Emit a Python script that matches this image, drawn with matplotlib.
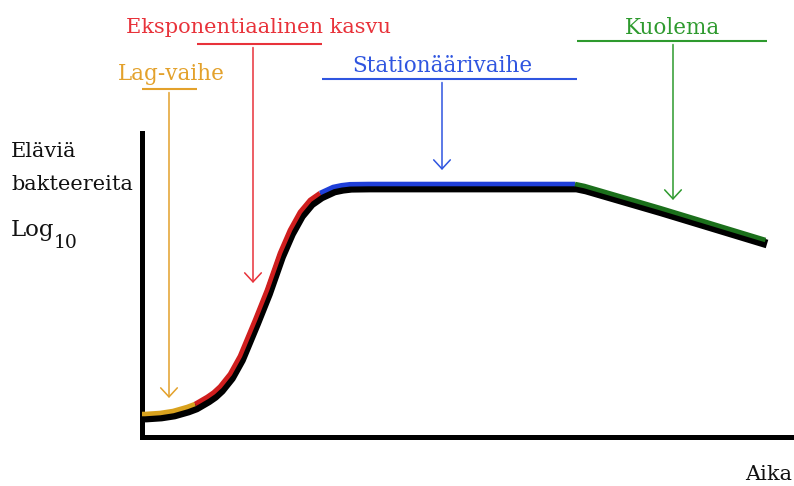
import matplotlib
matplotlib.use("Agg")
import matplotlib.pyplot as plt
import matplotlib.transforms as mtransforms

# ---- data ----
time = [0.0, 0.18, 0.78, 1.3, 1.86, 2.18, 2.66, 2.92, 3.18, 3.58, 3.98, 4.58, 5.06,
        5.58, 5.98, 6.38, 6.78, 7.18, 7.7, 8.04, 8.38, 9.12, 17.38, 17.76, 20.78, 25.0]
log_count = [0.76, 0.76, 0.8, 0.88, 1.04, 1.16, 1.44, 1.62, 1.86, 2.36, 3.08, 4.52, 5.72,
             7.2, 8.12, 8.84, 9.32, 9.6, 9.84, 9.91, 9.95, 9.96, 9.96, 9.88, 9.0, 7.72]

phase_names = ["Lag-vaihe", "Eksponentiaalinen kasvu", "Stationäärivaihe", "Kuolema"]
phase_bounds = [0, 5, 17, 22, 25]          # indices into time / log_count
curve_colors = ["#d9a21e", "#d01e1e", "#1f3fd8", "#1b6f1b"]
label_colors = ["#e3a12b", "#e8323a", "#2f55e0", "#2e9a2e"]
label_sizes = [15.5, 15.0, 15.5, 15.5]
label_x = [1.16, 4.64, 12.0, 21.24]
label_y = [14.28, 16.14, 14.6, 16.1]       # text baselines
bracket_y = [13.92, 15.72, 14.32, 15.84]   # height of the phase bracket
arrow_x = [1.08, 4.44, 12.0, 21.24]
arrow_tip_y = [1.56, 6.16, 10.68, 9.48]

ylabel_lines = ["Eläviä", "bakteereita"]
xlabel = "Aika"

W, H = 794, 486
fig = plt.figure(figsize=(W / 100, H / 100), dpi=100, facecolor="white")
ax = fig.add_axes([142 / W, (H - 437) / H, (W - 142) / W, (437 - 133) / H])
ax.set_xlim(0, (W - 142) / 25)
ax.set_ylim(0, (437 - 133) / 25)
ax.set_facecolor("white")
for s in ["top", "right"]:
    ax.spines[s].set_visible(False)
for s in ["left", "bottom"]:
    ax.spines[s].set_linewidth(3.6)
    ax.spines[s].set_color("black")
ax.set_xticks([])
ax.set_yticks([])

# black base curve
ax.plot(time, log_count, color="black", lw=6.3, solid_capstyle="butt",
        solid_joinstyle="round", zorder=3)

# coloured overlay, shifted slightly up-left
off = mtransforms.offset_copy(ax.transData, fig=fig, x=-1.5, y=4.0, units="dots")
for i in range(4):
    a, b = phase_bounds[i], phase_bounds[i + 1]
    ax.plot(time[a:b + 1], log_count[a:b + 1], color=curve_colors[i], lw=3.3,
            solid_capstyle="butt", solid_joinstyle="round", transform=off, zorder=4)

font = "DejaVu Serif"
for i in range(4):
    a, b = phase_bounds[i], phase_bounds[i + 1]
    t0, t1 = time[a], time[b]
    c = label_colors[i]
    ax.plot([t0, t1], [bracket_y[i], bracket_y[i]], color=c, lw=1.5,
            clip_on=False, solid_capstyle="butt")
    ax.annotate("", xy=(arrow_x[i], arrow_tip_y[i]),
                xytext=(arrow_x[i], bracket_y[i] - 0.14),
                arrowprops=dict(arrowstyle="->,head_length=0.65,head_width=0.6",
                                color=c, lw=1.1, shrinkA=0, shrinkB=0,
                                mutation_scale=10),
                annotation_clip=False)
    ax.text(label_x[i], label_y[i], phase_names[i], color=c, ha="center",
            va="baseline", fontsize=label_sizes[i], family=font, clip_on=False)

def fx(px):
    return px / W

def fy(py):
    return 1 - py / H

tc = "#111111"
fig.text(fx(11), fy(157), ylabel_lines[0], ha="left", va="baseline", fontsize=15,
         family=font, color=tc)
fig.text(fx(11), fy(190), ylabel_lines[1], ha="left", va="baseline", fontsize=15,
         family=font, color=tc)
fig.text(fx(11), fy(236), "Log", ha="left", va="baseline", fontsize=16.5,
         family=font, color=tc)
fig.text(fx(54), fy(248), "10", ha="left", va="baseline", fontsize=13.5,
         family=font, color=tc)
fig.text(fx(792), fy(480), xlabel, ha="right", va="baseline", fontsize=15,
         family=font, color=tc)

fig.savefig("out.png", dpi=100, facecolor="white")
